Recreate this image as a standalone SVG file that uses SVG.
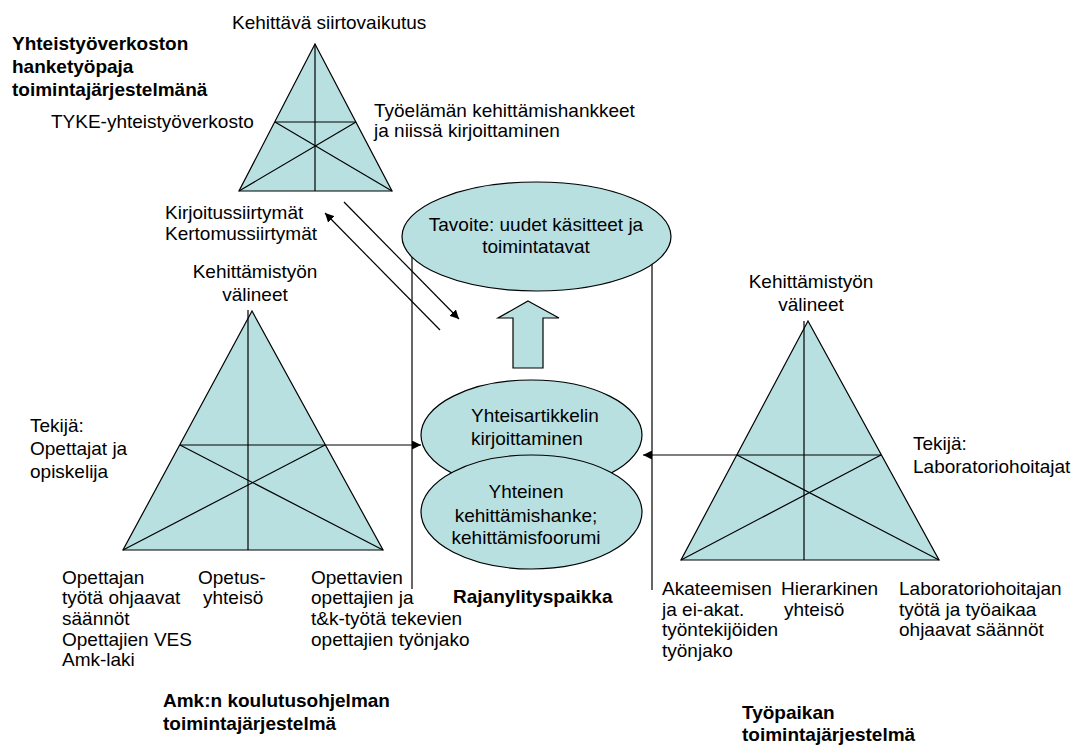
<svg xmlns="http://www.w3.org/2000/svg" width="1074" height="745" viewBox="0 0 1074 745">
<style>
text{font-family:"Liberation Sans",Arial,Helvetica,sans-serif;font-size:19px;fill:#000}
.b{font-weight:bold}
.m{text-anchor:middle}
.sh{fill:#b9e0e1;stroke:#000;stroke-width:1.2}
.ln{fill:none;stroke:#000;stroke-width:1.2}
</style>
<defs>
<marker id="ah" viewBox="0 0 10 10" refX="10" refY="5" markerWidth="9" markerHeight="9" markerUnits="userSpaceOnUse" orient="auto">
<path d="M0,0 L10,5 L0,10 z" fill="#000"/>
</marker>
</defs>
<rect width="1074" height="745" fill="#fff"/>

<g id="boundary-zone">
<line class="ln" x1="412" y1="245" x2="412" y2="589"/>
<line class="ln" x1="652" y1="245" x2="652" y2="590"/>
<text class="b" x="453" y="603">Rajanylityspaikka</text>
</g>

<g id="top-system">
<polygon class="sh" points="315,44 239,191 392,191"/>
<line class="ln" x1="315" y1="44" x2="315" y2="191"/>
<line class="ln" x1="275" y1="122" x2="356" y2="122"/>
<line class="ln" x1="239" y1="191" x2="356" y2="122"/>
<line class="ln" x1="392" y1="191" x2="275" y2="122"/>
<text x="232" y="29">Kehittävä siirtovaikutus</text>
<text class="b" x="12" y="50">Yhteistyöverkoston</text>
<text class="b" x="12" y="73">hanketyöpaja</text>
<text class="b" x="12" y="96">toimintajärjestelmänä</text>
<text x="51" y="128">TYKE-yhteistyöverkosto</text>
<text x="374" y="117">Työelämän kehittämishankkeet</text>
<text x="374" y="137">ja niissä kirjoittaminen</text>
<text x="165" y="219">Kirjoitussiirtymät</text>
<text x="165" y="240">Kertomussiirtymät</text>
</g>

<g id="left-system">
<polygon class="sh" points="252,311 123,550 383,550"/>
<line class="ln" x1="248" y1="310" x2="248" y2="550"/>
<line class="ln" x1="180" y1="445" x2="325" y2="445"/>
<line class="ln" x1="123" y1="550" x2="325" y2="445"/>
<line class="ln" x1="383" y1="550" x2="180" y2="445"/>
<text class="m" x="255" y="278">Kehittämistyön</text>
<text class="m" x="255" y="301">välineet</text>
<text x="30" y="432">Tekijä:</text>
<text x="30" y="455">Opettajat ja</text>
<text x="30" y="478">opiskelija</text>
<text x="62" y="584">Opettajan</text>
<text x="62" y="604">työtä ohjaavat</text>
<text x="62" y="625">säännöt</text>
<text x="62" y="646">Opettajien VES</text>
<text x="62" y="666">Amk-laki</text>
<text x="198" y="584">Opetus-</text>
<text x="203" y="604">yhteisö</text>
<text x="311" y="584">Opettavien</text>
<text x="311" y="604">opettajien ja</text>
<text x="311" y="625">t&amp;k-työtä tekevien</text>
<text x="311" y="646">opettajien työnjako</text>
<text class="b" x="163" y="707">Amk:n koulutusohjelman</text>
<text class="b" x="163" y="730">toimintajärjestelmä</text>
</g>

<g id="right-system">
<polygon class="sh" points="808,321 681,560 939,560"/>
<line class="ln" x1="804" y1="321" x2="804" y2="560"/>
<line class="ln" x1="737" y1="455" x2="881" y2="455"/>
<line class="ln" x1="681" y1="560" x2="881" y2="455"/>
<line class="ln" x1="939" y1="560" x2="737" y2="455"/>
<text class="m" x="811" y="288">Kehittämistyön</text>
<text class="m" x="811" y="311">välineet</text>
<text x="913" y="450">Tekijä:</text>
<text x="913" y="473">Laboratoriohoitajat</text>
<text x="662" y="595">Akateemisen</text>
<text x="662" y="616">ja ei-akat.</text>
<text x="662" y="636">työntekijöiden</text>
<text x="662" y="657">työnjako</text>
<text x="781" y="595">Hierarkinen</text>
<text x="784" y="616">yhteisö</text>
<text x="899" y="595">Laboratoriohoitajan</text>
<text x="899" y="616">työtä ja työaikaa</text>
<text x="899" y="636">ohjaavat säännöt</text>
<text class="b" x="742" y="719">Työpaikan</text>
<text class="b" x="742" y="741">toimintajärjestelmä</text>
</g>

<g id="goal">
<ellipse class="sh" cx="536.5" cy="236.5" rx="134.5" ry="54.5"/>
<text class="m" x="536" y="231">Tavoite: uudet käsitteet ja</text>
<text class="m" x="536" y="253">toimintatavat</text>
</g>

<g id="up-arrow">
<polygon class="sh" points="528,301 559,318 543,318 543,368 513,368 513,318 498,318"/>
</g>

<g id="joint-article">
<ellipse class="sh" cx="531.5" cy="435" rx="110.5" ry="55"/>
<text x="471" y="422">Yhteisartikkelin</text>
<text x="471" y="445">kirjoittaminen</text>
</g>

<g id="joint-project">
<ellipse class="sh" cx="531.5" cy="512" rx="110.5" ry="57"/>
<text class="m" x="526" y="498">Yhteinen</text>
<text class="m" x="526" y="522">kehittämishanke;</text>
<text class="m" x="526" y="544">kehittämisfoorumi</text>
</g>

<g id="connectors">
<line class="ln" x1="344" y1="202" x2="459" y2="319" marker-end="url(#ah)"/>
<line class="ln" x1="440" y1="330" x2="325" y2="213" marker-end="url(#ah)"/>
<line class="ln" x1="325" y1="445" x2="421" y2="445" marker-end="url(#ah)"/>
<line class="ln" x1="737" y1="455" x2="643" y2="455" marker-end="url(#ah)"/>
</g>
</svg>
